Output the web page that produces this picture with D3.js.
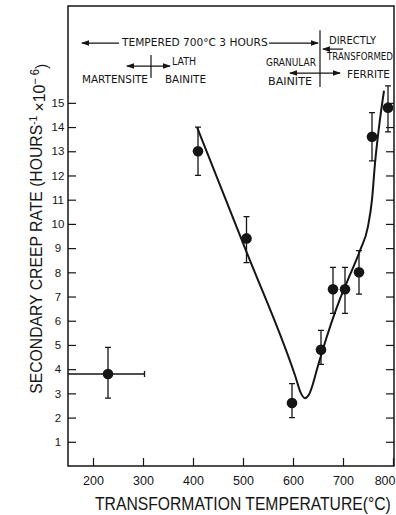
<!DOCTYPE html>
<html>
<head>
<meta charset="utf-8">
<script src="https://cdn.jsdelivr.net/npm/d3@7"></script>
<style>
  body { margin: 0; background: #fff; }
  svg { display: block; }
</style>
</head>
<body>
<div id="chart"></div>
<script>

// measured creep rates (hours^-1 x 10^-6) vs transformation temperature (C)
const temps    = [230, 410, 507, 598, 656, 680, 704, 732, 758, 790];
const rates    = [3.8, 13.0, 9.4, 2.6, 4.8, 7.3, 7.3, 8.0, 13.6, 14.8];
const rateLow  = [2.8, 12.0, 8.4, 2.0, 4.2, 6.3, 6.3, 7.1, 12.6, 13.8];
const rateHigh = [4.9, 14.0, 10.3, 3.4, 5.6, 8.2, 8.2, 8.9, 14.6, 15.7];

// temperature spread of the martensite sample (first point only)
const tempSpread = [150, 303];

// hand drawn trend line
const curveTemps = [408, 506, 604, 616, 624, 632, 640, 648, 658, 694, 712, 734, 750, 758, 764, 772, 782];
const curveRates = [14.0, 8.9, 3.75, 3.0, 2.8, 2.95, 3.4, 4.0, 4.7, 6.9, 7.8, 8.9, 9.9, 11.0, 12.5, 14.0, 15.5];

const xTicks = [200, 300, 400, 500, 600, 700, 800];
const yTicks = [1, 2, 3, 4, 5, 6, 7, 8, 9, 10, 11, 12, 13, 14, 15];

const W = 396, H = 515;
const ink = "#151515";

const svg = d3.select("#chart").append("svg")
	.attr("width", W)
	.attr("height", H);

// arrow head
svg.append("defs").append("marker")
	.attr("id", "head")
	.attr("viewBox", "0 -4 8 8")
	.attr("refX", 7)
	.attr("refY", 0)
	.attr("markerWidth", 8)
	.attr("markerHeight", 8)
	.attr("markerUnits", "userSpaceOnUse")
	.attr("orient", "auto-start-reverse")
	.append("path")
	.attr("d", "M0,-2.8L8,0L0,2.8Z")
	.attr("fill", ink);

// scales
const x = d3.scaleLinear().domain([150, 800]).range([68, 393]);
const y = d3.scaleLinear().domain([0, 19]).range([466, 6]);

// squeeze a text horizontally so it spans `width` px starting at (px, py)
function squeeze(sel, px, py, width) {
	let natural = sel.node().getComputedTextLength();
	sel.attr("x", 0).attr("y", 0)
		.attr("transform", "translate(" + px + "," + py + ") scale(" + (width / natural) + ",1)");
}

// frame
svg.append("rect")
	.attr("x", x(150))
	.attr("y", y(19))
	.attr("width", x(800) - x(150) + 1)
	.attr("height", y(0) - y(19))
	.attr("fill", "none")
	.attr("stroke", ink)
	.attr("stroke-width", 1.5);

// axes
const xAxis = d3.axisBottom(x)
	.tickValues(xTicks)
	.tickSizeInner(-8)
	.tickSizeOuter(0)
	.tickPadding(10);

const yAxis = d3.axisLeft(y)
	.tickValues(yTicks)
	.tickSizeInner(-8)
	.tickSizeOuter(0)
	.tickPadding(4);

const yAxisRight = d3.axisRight(y)
	.tickValues(yTicks)
	.tickSizeInner(-8)
	.tickSizeOuter(0)
	.tickFormat("");

const gx = svg.append("g")
	.attr("transform", "translate(0," + y(0) + ")")
	.call(xAxis);

const gy = svg.append("g")
	.attr("transform", "translate(" + x(150) + ",0)")
	.call(yAxis);

const gyr = svg.append("g")
	.attr("transform", "translate(" + (x(800) + 1) + ",0)")
	.call(yAxisRight);

[gx, gy, gyr].forEach(g => {
	g.select(".domain").remove();
	g.selectAll("line").attr("stroke", ink).attr("stroke-width", 1.2);
	g.selectAll("text")
		.attr("fill", ink)
		.style("font-family", "'Liberation Sans', Arial, sans-serif");
});
gx.selectAll("text").style("font-size", "12.5px");
// last label sits against the page edge
gx.selectAll("text").filter(d => d === 800)
	.attr("text-anchor", "end")
	.attr("x", 2);
gy.selectAll("text")
	.style("font-size", "11.5px")
	.attr("text-anchor", "middle")
	.attr("x", -10);

// axis titles
let xTitle = svg.append("text")
	.attr("fill", ink)
	.style("font-family", "'Liberation Sans', Arial, sans-serif")
	.style("font-size", "19px")
	.text("TRANSFORMATION  TEMPERATURE(°C)");
squeeze(xTitle, 95, 510, 296);

const yTitle = svg.append("text")
	.attr("transform", "translate(42," + y(9.8) + ") rotate(-90)")
	.attr("text-anchor", "middle")
	.attr("textLength", 330)
	.attr("lengthAdjust", "spacingAndGlyphs")
	.attr("fill", ink)
	.style("font-family", "'Liberation Sans', Arial, sans-serif")
	.style("font-size", "17px");
yTitle.append("tspan").text("SECONDARY CREEP RATE (HOURS");
yTitle.append("tspan").attr("dy", "-0.45em").style("font-size", "11px").text("-1");
yTitle.append("tspan").attr("dy", "0.45em").text(" ×10");
yTitle.append("tspan").attr("dy", "-0.45em").style("font-size", "12px").text("− 6");
yTitle.append("tspan").attr("dy", "0.45em").text(")");

// trend line
const line = d3.line()
	.x(d => x(d[0]))
	.y(d => y(d[1]))
	.curve(d3.curveMonotoneX);

svg.append("path")
	.datum(d3.zip(curveTemps, curveRates))
	.attr("d", line)
	.attr("fill", "none")
	.attr("stroke", ink)
	.attr("stroke-width", 2);

// error bars
const pts = d3.range(temps.length).map(i => ({
	t: temps[i], v: rates[i], lo: rateLow[i], hi: rateHigh[i]
}));

const bars = svg.append("g")
	.attr("stroke", ink)
	.attr("stroke-width", 1.3)
	.attr("fill", "none");

bars.selectAll(".vbar")
	.data(pts)
	.enter().append("path")
	.attr("class", "vbar")
	.attr("d", d => {
		let cx = x(d.t), c = 3;
		return "M" + cx + "," + y(d.lo) + "V" + y(d.hi) +
			"M" + (cx - c) + "," + y(d.lo) + "H" + (cx + c) +
			"M" + (cx - c) + "," + y(d.hi) + "H" + (cx + c);
	});

// horizontal spread for first sample
bars.append("path")
	.attr("d", "M" + x(tempSpread[0]) + "," + y(rates[0]) + "H" + x(tempSpread[1]) +
		"M" + x(tempSpread[1]) + "," + (y(rates[0]) - 3) + "V" + (y(rates[0]) + 3));

// points
svg.append("g").selectAll("circle")
	.data(pts)
	.enter().append("circle")
	.attr("cx", d => x(d.t))
	.attr("cy", d => y(d.v))
	.attr("r", 5.3)
	.attr("fill", ink);

// phase annotations along the top
const ann = svg.append("g")
	.attr("fill", ink)
	.style("font-family", "'DejaVu Sans', sans-serif")
	.style("font-size", "10px");

function label(txt, t, v, len) {
	let s = ann.append("text")
		.attr("dominant-baseline", "middle")
		.text(txt);
	squeeze(s, x(t), y(v), len);
}

function arrow(t0, t1, v, startHead, endHead) {
	svg.append("line")
		.attr("x1", x(t0)).attr("x2", x(t1))
		.attr("y1", y(v)).attr("y2", y(v))
		.attr("stroke", ink)
		.attr("stroke-width", 1.2)
		.attr("marker-start", startHead ? "url(#head)" : null)
		.attr("marker-end", endHead ? "url(#head)" : null);
}

function divider(t, v0, v1) {
	svg.append("line")
		.attr("x1", x(t)).attr("x2", x(t))
		.attr("y1", y(v0)).attr("y2", y(v1))
		.attr("stroke", ink)
		.attr("stroke-width", 1.2);
}

label("TEMPERED  700°C  3 HOURS", 258, 17.47, 146);
arrow(252, 178, 17.47, false, true);
arrow(552, 650, 17.47, false, true);
divider(654, 18.0, 15.65);

label("DIRECTLY", 672, 17.55, 47);
arrow(700, 660, 17.22, false, true);
label("TRANSFORMED", 668, 16.89, 66);

label("GRANULAR", 546, 16.65, 50);
label("BAINITE", 550, 15.86, 44);
arrow(594, 694, 16.23, true, true);
label("FERRITE", 708, 16.15, 43);

label("LATH", 358, 16.69, 24);
arrow(268, 354, 16.52, true, true);
divider(316, 16.98, 16.03);
label("MARTENSITE", 178, 15.94, 66);
label("BAINITE", 344, 15.94, 41);

</script>
</body>
</html>
